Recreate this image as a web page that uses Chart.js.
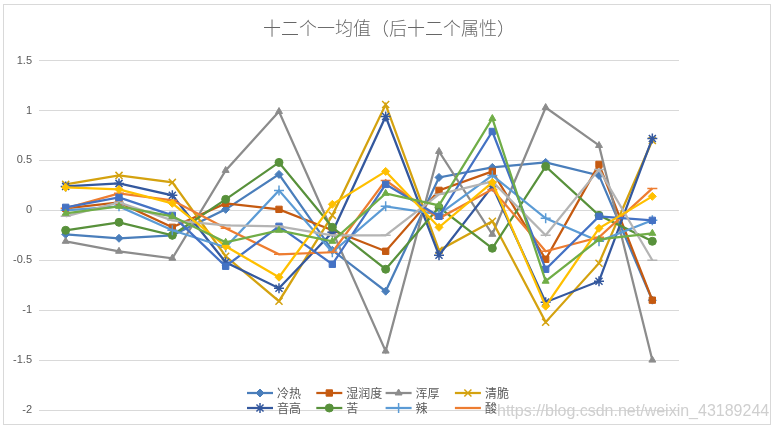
<!DOCTYPE html>
<html>
<head>
<meta charset="utf-8">
<script src="https://cdn.jsdelivr.net/npm/chart.js@4.4.1/dist/chart.umd.min.js"></script>
<style>
  body { margin: 0; background: #fff; }
  #wrap { position: relative; width: 778px; height: 431px; }
  #frame { position: absolute; left: 3px; top: 4px; width: 766px; height: 419px; border: 1px solid #D9D9D9; pointer-events: none; }
  #mark { position: absolute; left: 497px; top: 402px; font: 16px "Liberation Sans", Arial, sans-serif; color: #CFCFCF; white-space: nowrap; }
</style>
</head>
<body>
<div id="wrap">
  <canvas id="chart" width="778" height="431"></canvas>
  <div id="frame"></div>
  <div id="mark">https://blog.csdn.net/weixin_43189244</div>
</div>
<script>
const categories = ['1', '2', '3', '4', '5', '6', '7', '8', '9', '10', '11', '12'];
const yTicks = { min: -2, max: 1.5, step: 0.5 };

// series shown in the legend
const coldHot  = [-0.24, -0.28, -0.25, 0.01, 0.36, -0.40, -0.81, 0.33, 0.43, 0.48, 0.35, -0.90];
const moisture = [0.02, 0.08, -0.17, 0.07, 0.01, -0.20, -0.41, 0.20, 0.39, -0.49, 0.46, -0.90];
const mellow   = [-0.31, -0.41, -0.48, 0.40, 0.99, -0.21, -1.41, 0.59, -0.24, 1.03, 0.65, -1.50];
const crisp    = [0.26, 0.35, 0.28, -0.46, -0.91, -0.05, 1.06, -0.40, -0.11, -1.12, -0.53, 0.70];
const pitch    = [0.24, 0.27, 0.15, -0.52, -0.78, -0.22, 0.94, -0.45, 0.24, -0.92, -0.71, 0.72];
const bitter   = [-0.20, -0.12, -0.25, 0.11, 0.48, -0.17, -0.59, 0.03, -0.38, 0.44, -0.05, -0.31];
const spicy    = [0.00, 0.04, -0.20, -0.37, 0.20, -0.42, 0.04, -0.04, 0.35, -0.08, -0.31, -0.10];
const sour     = [0.02, 0.17, 0.10, -0.18, -0.44, -0.42, 0.30, -0.08, 0.21, -0.41, -0.27, 0.22];
// the last four series (legend row cut off in the original)
const series9  = [0.03, 0.13, -0.05, -0.56, -0.16, -0.54, 0.26, -0.06, 0.79, -0.59, -0.06, -0.10];
const series10 = [-0.06, 0.08, -0.10, -0.15, -0.16, -0.25, -0.25, 0.16, 0.29, -0.25, 0.41, -0.50];
const series11 = [0.23, 0.21, 0.07, -0.36, -0.67, 0.06, 0.39, -0.17, 0.28, -0.96, -0.18, 0.14];
const series12 = [-0.03, 0.04, -0.06, -0.32, -0.20, -0.31, 0.17, 0.05, 0.92, -0.71, -0.29, -0.23];

const seriesNames = ['冷热', '湿润度', '浑厚', '清脆', '音高', '苦', '辣', '酸', '系列9', '系列10', '系列11', '系列12'];
const seriesValues = [coldHot, moisture, mellow, crisp, pitch, bitter, spicy, sour, series9, series10, series11, series12];
const seriesColors = ['#4A7EBB', '#C55A11', '#8C8C8C', '#D4A20F', '#34589E', '#58913B', '#5B9BD5', '#ED7D31',
                      '#4472C4', '#B4B4B4', '#FFC000', '#70AD47'];
const seriesMarkers = ['rectRot', 'rect', 'triangle', 'crossRot', 'star', 'circle', 'cross', 'line',
                       'rect', 'line', 'rectRot', 'triangle'];
const legendCount = 8;

const FONT = '"Noto Sans CJK SC", "Liberation Sans", sans-serif';

const datasets = seriesValues.map((vals, i) => {
    const m = seriesMarkers[i];
    const open = m === 'cross' || m === 'crossRot' || m === 'star' || m === 'line';
    return {
        label: seriesNames[i],
        data: vals,
        borderColor: seriesColors[i],
        backgroundColor: seriesColors[i],
        borderWidth: 2.25,
        pointStyle: m,
        pointRadius: m === 'rect' ? 4.5 : (open ? 5 : 4),
        pointBorderWidth: open ? 1.5 : 1,
        pointBorderColor: seriesColors[i],
        pointBackgroundColor: seriesColors[i],
        tension: 0,
        order: seriesValues.length - i, // later series on top, like the spreadsheet
    };
});

// legend drawn inside the plot's bottom edge, the way the original overlaps it
const overlapLegend = {
    id: 'overlapLegend',
    afterDraw(chart) {
        const ctx = chart.ctx;
        const startX = 247, colW = 69.3, rowY = [393, 408];
        ctx.save();
        ctx.font = '12px ' + FONT;
        ctx.textBaseline = 'middle';
        for (let i = 0; i < legendCount; i++) {
            const ds = chart.data.datasets[i];
            const x = startX + (i % 4) * colW;
            const y = rowY[Math.floor(i / 4)];
            ctx.strokeStyle = ds.borderColor;
            ctx.lineWidth = 2.25;
            ctx.beginPath();
            ctx.moveTo(x, y);
            ctx.lineTo(x + 26, y);
            ctx.stroke();
            ctx.fillStyle = ds.backgroundColor;
            ctx.lineWidth = ds.pointBorderWidth;
            Chart.helpers.drawPoint(ctx, { pointStyle: ds.pointStyle, radius: ds.pointRadius, borderWidth: ds.pointBorderWidth, rotation: 0 }, x + 13, y);
            ctx.fillStyle = '#595959';
            ctx.fillText(ds.label, x + 30, y);
        }
        ctx.restore();
    }
};

Chart.register(overlapLegend);

new Chart(document.getElementById('chart'), {
    type: 'line',
    data: { labels: categories, datasets: datasets },
    options: {
        responsive: false,
        animation: false,
        layout: { padding: { left: 0, right: 0, top: 0, bottom: 21 } },
        plugins: {
            legend: { display: false },
            tooltip: { enabled: false },
            title: {
                display: true,
                text: '十二个一均值（后十二个属性）',
                color: '#666666',
                font: { family: FONT, size: 18, weight: '300' },
                padding: { top: 17, bottom: 22 },
            },
        },
        scales: {
            x: { display: false, offset: true },
            y: {
                min: yTicks.min,
                max: yTicks.max,
                afterFit(scale) { scale.width = 39; },
                ticks: {
                    stepSize: yTicks.step,
                    color: '#595959',
                    padding: 7,
                    font: { family: '"Liberation Sans", sans-serif', size: 11 },
                    callback: (v) => String(Math.round(v * 10) / 10),
                },
                grid: { color: '#D9D9D9', lineWidth: 1, drawTicks: false },
                border: { display: false },
            },
            // empty space on the right of the plot, as in the original
            spacer: {
                type: 'linear',
                position: 'right',
                afterFit(scale) { scale.width = 99; },
                ticks: { display: false },
                grid: { display: false, drawTicks: false },
                border: { display: false },
            },
        },
    },
});
</script>
</body>
</html>
